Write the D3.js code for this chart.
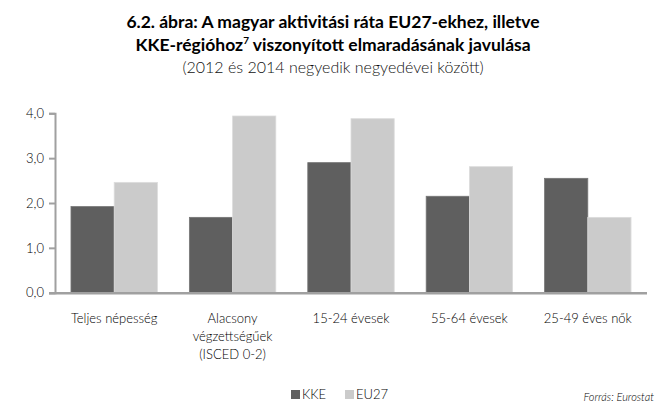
<!DOCTYPE html>
<html>
<head>
<meta charset="utf-8">
<script src="https://cdn.jsdelivr.net/npm/d3@7"></script>
<style>
body { margin: 0; background: #fff; }
text { font-family: Lato, "Open Sans", sans-serif; }
</style>
</head>
<body>
<svg width="666" height="418"></svg>
<script>
// adatok
var categories = ["Teljes népesség", "Alacsony végzettségűek (ISCED 0-2)", "15-24 évesek", "55-64 évesek", "25-49 éves nők"];
var catLines = [["Teljes népesség"], ["Alacsony", "végzettségűek", "(ISCED 0-2)"], ["15-24 évesek"], ["55-64 évesek"], ["25-49 éves nők"]];
var kke = [1.92, 1.68, 2.90, 2.15, 2.55];
var eu27 = [2.46, 3.94, 3.88, 2.81, 1.68];
var seriesNames = ["KKE", "EU27"];
var seriesColors = ["#5f5f5f", "#cbcbcb"];
var yTicks = [0, 1, 2, 3, 4];

var svg = d3.select("svg");
var plotLeft = 55, plotRight = 647, plotTop = 113.3, plotBottom = 292.7;

// cím
var title = svg.append("g").attr("text-anchor", "middle");
title.append("text").attr("x", 333).attr("y", 28)
    .attr("font-size", 17.5).attr("font-weight", "bold").attr("fill", "#000")
    .text("6.2. ábra: A magyar aktivitási ráta EU27-ekhez, illetve");
var t2 = title.append("text").attr("x", 333).attr("y", 51)
    .attr("font-size", 17.5).attr("font-weight", "bold").attr("fill", "#000");
t2.append("tspan").text("KKE-régióhoz");
t2.append("tspan").attr("font-size", 10).attr("dy", -7).text("7");
t2.append("tspan").attr("dy", 7).text(" viszonyított elmaradásának javulása");
title.append("text").attr("x", 333).attr("y", 73)
    .attr("font-size", 16).attr("font-weight", 300).attr("fill", "#111")
    .text("(2012 és 2014 negyedik negyedévei között)");

var x0 = d3.scaleBand().domain(categories).range([plotLeft, plotRight]).paddingInner(0.27).paddingOuter(0.135);
var x1 = d3.scaleBand().domain(seriesNames).range([0, x0.bandwidth()]);
var y = d3.scaleLinear().domain([0, 4]).range([plotBottom, plotTop]);

var rows = categories.map(function(c, i) { return { cat: c, values: [kke[i], eu27[i]] }; });

// oszlopok
svg.append("g").selectAll("g").data(rows).enter().append("g")
    .attr("transform", function(d) { return "translate(" + x0(d.cat) + ",0)"; })
    .selectAll("rect").data(function(d) { return d.values.map(function(v, j) { return { key: seriesNames[j], v: v, j: j }; }); })
    .enter().append("rect")
    .attr("x", function(d) { return x1(d.key); })
    .attr("width", x1.bandwidth())
    .attr("y", function(d) { return y(d.v); })
    .attr("height", function(d) { return plotBottom - y(d.v); })
    .attr("fill", function(d) { return seriesColors[d.j]; })
    .attr("stroke", function(d) { return d.j === 0 ? "#767676" : "#dcdcdc"; })
    .attr("stroke-width", 0.8);

// y tengely
var yAxis = svg.append("g").attr("transform", "translate(" + plotLeft + ",0)")
    .call(d3.axisLeft(y).tickValues(yTicks).tickSize(6).tickPadding(5)
        .tickFormat(function(d) { return d3.format(".1f")(d).replace(".", ","); }));
yAxis.select(".domain").attr("stroke", "#a0a0a0").attr("stroke-width", 2);
yAxis.selectAll(".tick line").attr("stroke", "#a0a0a0").attr("stroke-width", 2);
yAxis.selectAll(".tick text").attr("font-size", 13).attr("fill", "#000")
    .attr("font-family", "Lato, sans-serif").attr("font-weight", 300);

// x tengely
svg.append("line").attr("x1", 49).attr("x2", plotRight).attr("y1", plotBottom + 0.5).attr("y2", plotBottom + 0.5)
    .attr("stroke", "#a0a0a0").attr("stroke-width", 2.5);

var labels = svg.append("g").selectAll("text").data(categories).enter().append("text")
    .attr("text-anchor", "middle")
    .attr("x", function(d) { return x0(d) + x0.bandwidth() / 2; })
    .attr("y", 323)
    .attr("font-size", 13).attr("font-weight", 300).attr("fill", "#000");
labels.selectAll("tspan").data(function(d, i) { return catLines[i]; }).enter().append("tspan")
    .attr("x", function() { return this.parentNode.getAttribute("x"); })
    .attr("dy", function(d, i) { return i === 0 ? 0 : 18; })
    .text(function(d) { return d; });

// jelmagyarázat
var legend = svg.append("g");
seriesNames.forEach(function(s, i) {
    var lx = 291 + i * 54;
    legend.append("rect").attr("x", lx).attr("y", 390).attr("width", 9).attr("height", 9).attr("fill", seriesColors[i]);
    legend.append("text").attr("x", lx + 11).attr("y", 399).attr("font-size", 13)
        .attr("font-weight", 300).attr("fill", "#000").text(s);
});

svg.append("text").attr("x", 654).attr("y", 401).attr("text-anchor", "end")
    .attr("font-size", 11).attr("font-style", "italic").attr("font-weight", 300).attr("fill", "#000")
    .text("Forrás: Eurostat");
</script>
</body>
</html>
